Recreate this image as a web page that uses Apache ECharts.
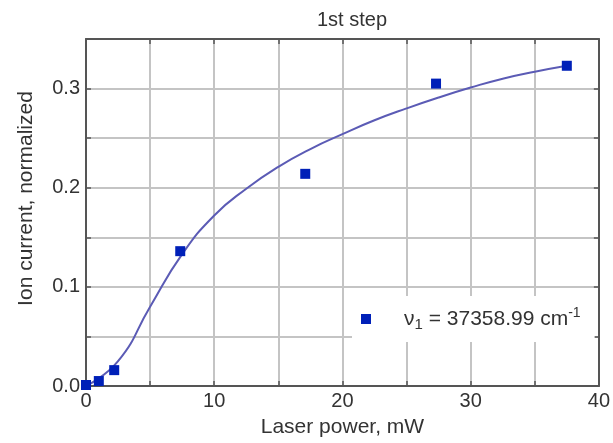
<!DOCTYPE html>
<html>
<head>
<meta charset="utf-8">
<script src="https://cdn.jsdelivr.net/npm/echarts@6/dist/echarts.min.js"></script>
<style>html,body{margin:0;padding:0;background:#fff}#c{width:613px;height:443px}</style>
</head>
<body>
<div id="c"></div>
<script>
// Measured points
var powerX = [0, 1.0, 2.2, 7.35, 17.1, 27.3, 37.5];
var ionY = [0.001, 0.005, 0.016, 0.136, 0.214, 0.305, 0.323];
// Fit curve
var fitX = [0, 2.5, 5, 7.5, 10, 12.5, 15, 17.5, 20, 22.5, 25, 27.5, 30, 32.5, 35, 37.5];
var fitY = [0, 0.025, 0.080, 0.133, 0.172, 0.199, 0.221, 0.239, 0.254, 0.268, 0.280, 0.291, 0.301, 0.310, 0.317, 0.323];
var xTickLabels = ['0', '10', '20', '30', '40'];
var yTickLabels = ['0.0', '0.1', '0.2', '0.3'];
var legendName = 'v1';

var FONT = '"Liberation Sans", Arial, sans-serif';
var TXT = '#333';
var chart = echarts.init(document.getElementById('c'), null, {renderer: 'canvas'});

function pairs(xs, ys) { return xs.map(function (x, i) { return [x, ys[i]]; }); }

var xBase = {
  type: 'value', min: 0, max: 40, interval: 5,
  axisLine: {show: true, onZero: false, lineStyle: {color: '#555', width: 2}},
  axisTick: {show: true, inside: true, length: 5, lineStyle: {color: '#555', width: 1.5}}
};
var yBase = {
  type: 'value', min: 0, max: 0.35, interval: 0.05,
  axisLine: {show: true, onZero: false, lineStyle: {color: '#555', width: 2}},
  axisTick: {show: true, inside: true, length: 5, lineStyle: {color: '#555', width: 1.5}}
};

chart.setOption({
  animation: false,
  backgroundColor: '#fff',
  title: {
    text: '1st step', left: 347, top: 5, textAlign: 'center',
    textStyle: {fontFamily: FONT, fontSize: 20, fontWeight: 'normal', color: TXT}
  },
  grid: {left: 86, right: 2, top: 39, bottom: 55, show: false},
  legend: {
    left: 352, top: 296, orient: 'vertical',
    backgroundColor: '#fff', borderWidth: 0,
    padding: [10, 14, 10, 9],
    itemWidth: 10, itemHeight: 10,
    data: [{name: legendName, icon: 'rect'}],
    formatter: function () { return '{g| }{a|ν}{s|1}{a| = 37358.99 cm}{p|-1}'; },
    textStyle: {
      fontFamily: FONT, color: TXT,
      rich: {
        g: {width: 28, fontSize: 20},
        a: {fontFamily: FONT, fontSize: 21, color: TXT, lineHeight: 26, verticalAlign: 'middle'},
        s: {fontFamily: FONT, fontSize: 15, color: TXT, lineHeight: 26, verticalAlign: 'bottom', padding: [10, 0, 0, 0]},
        p: {fontFamily: FONT, fontSize: 14, color: TXT, lineHeight: 26, verticalAlign: 'top', padding: [0, 0, 10, 0]}
      }
    }
  },
  xAxis: [
    Object.assign({}, xBase, {
      position: 'bottom',
      name: 'Laser power, mW', nameLocation: 'middle', nameGap: 31,
      nameTextStyle: {fontFamily: FONT, fontSize: 21, color: TXT},
      axisLabel: {
        fontFamily: FONT, fontSize: 20, color: TXT, margin: 5,
        formatter: function (v) { return (v % 10 === 0) ? xTickLabels[v / 10] : ''; }
      },
      splitLine: {show: true, lineStyle: {color: '#c4c4c4', width: 2}}
    }),
    Object.assign({}, xBase, {
      position: 'top', axisLabel: {show: false}, splitLine: {show: false}
    })
  ],
  yAxis: [
    Object.assign({}, yBase, {
      position: 'left',
      name: 'Ion current, normalized', nameLocation: 'middle', nameGap: 49, nameRotate: 90,
      nameTextStyle: {fontFamily: FONT, fontSize: 21, color: TXT, padding: [0, 0, 0, 28]},
      axisLabel: {
        fontFamily: FONT, fontSize: 20, color: TXT, margin: 6,
        formatter: function (v) {
          var k = Math.round(v * 100);
          return (k % 10 === 0) ? yTickLabels[k / 10] : '';
        }
      },
      splitLine: {show: true, lineStyle: {color: '#c4c4c4', width: 2}}
    }),
    Object.assign({}, yBase, {
      position: 'right', axisLabel: {show: false}, splitLine: {show: false}
    })
  ],
  series: [
    {
      name: 'fit', type: 'line', data: pairs(fitX, fitY),
      smooth: 0.5, showSymbol: false, symbol: 'none',
      lineStyle: {color: '#5b5bb5', width: 2}, z: 3, legendHoverLink: false
    },
    {
      name: legendName, type: 'scatter', data: pairs(powerX, ionY),
      symbol: 'rect', symbolSize: 10, clip: false,
      itemStyle: {color: '#0020b8', opacity: 1}, z: 4
    }
  ]
});
</script>
</body>
</html>
